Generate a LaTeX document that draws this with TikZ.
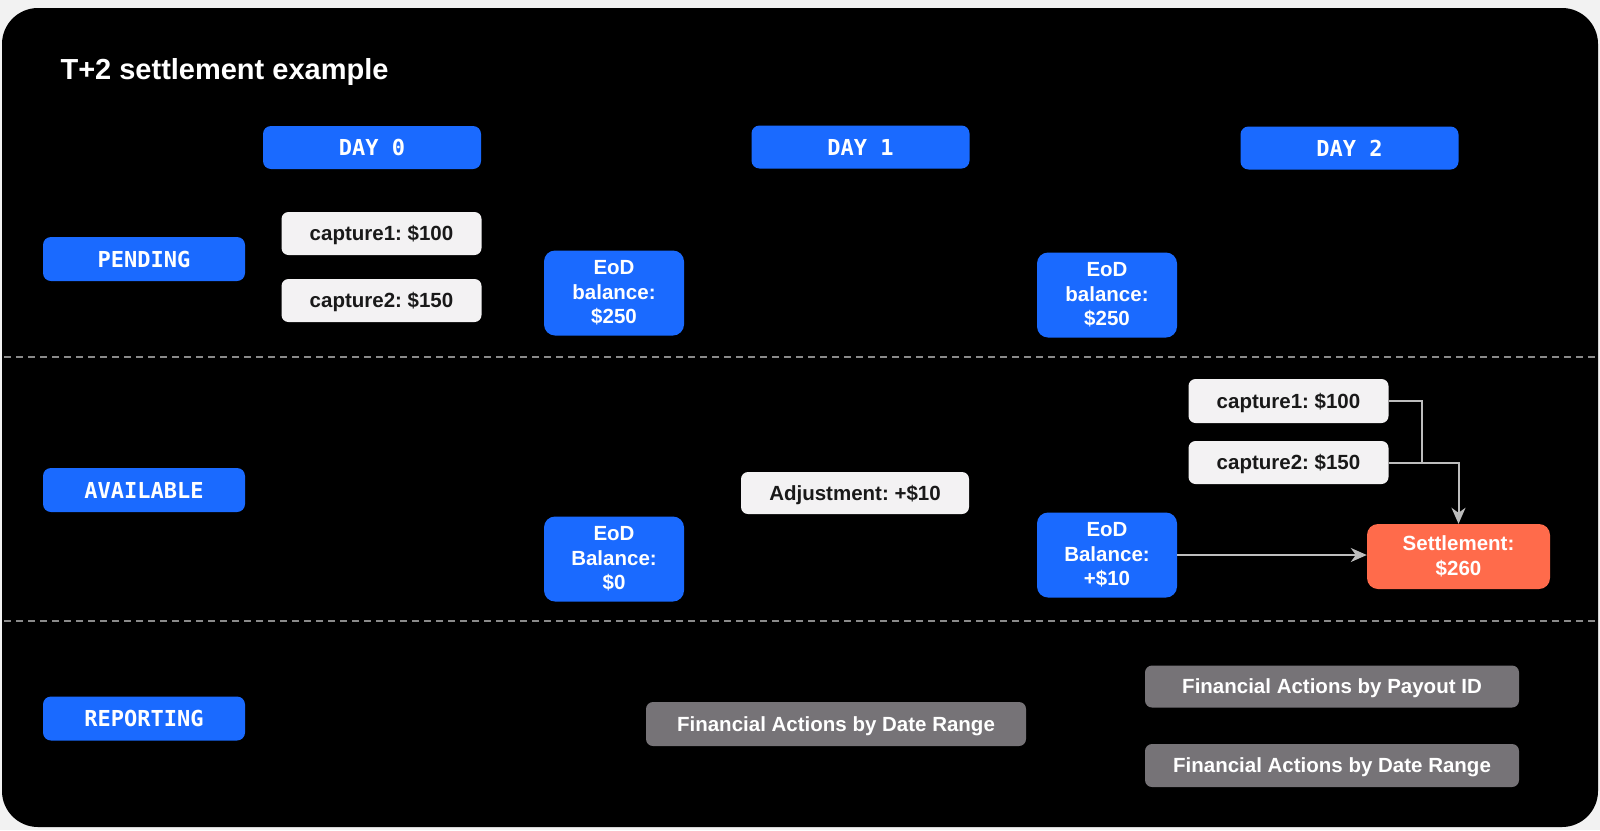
\documentclass[tikz,border=0pt]{standalone}
\usepackage{fontspec}
\setmainfont{Liberation Sans}
\newfontfamily\daymono{DejaVu Sans Mono}
\usetikzlibrary{arrows.meta}
\definecolor{bluebox}{HTML}{1A6AFF}
\definecolor{lightbox}{HTML}{F3F2F3}
\definecolor{settlecol}{HTML}{FF6B4B}
\definecolor{graybox}{HTML}{767377}
\definecolor{connline}{HTML}{BDBDBD}
\definecolor{dashcol}{HTML}{8A8A8A}
\definecolor{outer}{HTML}{F2F2F2}
\frenchspacing

\begin{document}
\begin{tikzpicture}[x=1pt,y=-1pt,
  daybox/.style={rounded corners=8pt,fill=bluebox,text=white,inner sep=0pt,minimum width=218pt,minimum height=43pt,font=\daymono\bfseries\fontsize{22}{22}\selectfont},
  lanebox/.style={daybox,minimum width=202pt,minimum height=44pt},
  capbox/.style={rounded corners=7pt,fill=lightbox,text=black!90,inner sep=0pt,minimum width=200pt,minimum height=43pt,text height=14.7pt,text depth=0.5pt,font=\bfseries\fontsize{20.5}{24}\selectfont},
  eodbox/.style={rounded corners=11pt,fill=bluebox,text=white,inner sep=0pt,minimum width=140pt,minimum height=85pt,align=center,font=\bfseries\fontsize{20.5}{24.5}\selectfont},
  reportbox/.style={rounded corners=7pt,fill=graybox,text=white,inner sep=0pt,minimum width=374pt,minimum height=43pt,text height=14.7pt,text depth=0.5pt,font=\bfseries\fontsize{20.5}{24}\selectfont},
  divider/.style={dashcol,line width=2pt,dash pattern=on 7pt off 5pt},
  conn/.style={connline,line width=2pt},
  arrowtip/.style={-{Stealth[length=16pt,width=14pt,inset=5pt]}}]
\useasboundingbox (0,0) rectangle (1600,830);
\fill[outer] (0,0) rectangle (1600,830);
\fill[black,rounded corners=36pt] (2,8) rectangle (1598,827);

\node (title) [anchor=base west,text=white,font=\bfseries\fontsize{29}{29}\selectfont] at (57,79) {T+2 settlement example};

\draw[divider] (4,357) -- (1598,357);
\draw[divider] (4,621) -- (1598,621);

\node (day0) [daybox] at (372,147.5) {DAY 0};
\node (day1) [daybox] at (860.5,147) {DAY 1};
\node (day2) [daybox] at (1349.5,148) {DAY 2};

\node (pend) [lanebox] at (144,259) {PENDING};
\node (avail) [lanebox] at (144,490) {AVAILABLE};
\node (report) [lanebox] at (144,718.5) {REPORTING};

\node (pcap1) [capbox] at (381.5,233.5) {capture1: \$100};
\node (pcap2) [capbox] at (381.5,300.5) {capture2: \$150};
\node (peod1) [eodbox] at (614,293) {EoD\\balance:\\\$250};
\node (peod2) [eodbox] at (1107,295) {EoD\\balance:\\\$250};

\node (aeod1) [eodbox] at (614,559) {EoD\\Balance:\\\$0};
\node (adjust) [capbox,minimum width=228pt,minimum height=42pt] at (855,493) {Adjustment: +\$10};
\node (acap1) [capbox,minimum height=44pt] at (1288.5,401) {capture1: \$100};
\node (acap2) [capbox] at (1288.5,462.5) {capture2: \$150};
\node (aeod2) [eodbox] at (1107,555) {EoD\\Balance:\\+\$10};
\node (settle) [eodbox,fill=settlecol,minimum width=183pt,minimum height=65pt] at (1458.5,556.5) {Settlement:\\\$260};

\node (fa1) [reportbox,minimum width=380pt,minimum height=44pt] at (836,724) {Financial Actions by Date Range};
\node (fa2) [reportbox,minimum height=42pt] at (1332,686.5) {Financial Actions by Payout ID};
\node (fa3) [reportbox] at (1332,765.5) {Financial Actions by Date Range};

\coordinate (join) at (1422,462.5);
\draw[conn] (acap1.east) -| (join);
\draw[conn,arrowtip] (acap2.east) -| (settle.north);
\draw[conn,arrowtip] (aeod2.east) -- (aeod2.east -| settle.west);
\end{tikzpicture}
\end{document}
